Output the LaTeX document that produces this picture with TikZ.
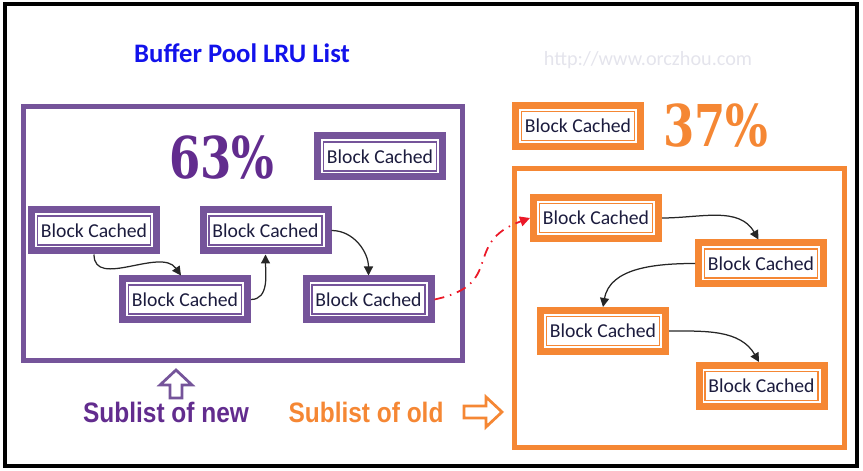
\documentclass[tikz,border=0pt]{standalone}
\usepackage{fontspec}
\usepackage{tikz}
\usetikzlibrary{arrows.meta,positioning}
\newfontfamily\calib{Carlito}
\newfontfamily\arb{Liberation Sans}
\newfontfamily\slab{DejaVu Serif}
\definecolor{cPurple}{RGB}{117,84,154}
\definecolor{cDeep}{RGB}{98,44,142}
\definecolor{cOrange}{RGB}{245,135,52}
\definecolor{cTitle}{RGB}{18,18,235}
\definecolor{cInk}{RGB}{28,28,62}
\definecolor{cMark}{RGB}{228,228,236}
\definecolor{cLink}{RGB}{235,25,40}
\tikzset{
  inset/.style={path picture={
      \draw[#1,line width=0.025cm]
        ([shift={(0.12cm,0.12cm)}]path picture bounding box.south west) rectangle
        ([shift={(-0.12cm,-0.12cm)}]path picture bounding box.north east);}},
  blkbase/.style={rectangle,line width=0.14cm,fill=white,inner sep=0pt,
                  minimum width=2.5cm,minimum height=0.82cm,text=cInk,
                  font=\calib\fontsize{11.2}{13}\selectfont},
  newblk/.style={blkbase,draw=cPurple,inset=cPurple},
  oldblk/.style={blkbase,draw=cOrange,inset=cOrange},
  sublist/.style={rectangle,inner sep=0pt},
  pct/.style={font=\slab\bfseries\fontsize{32.8}{34}\selectfont},
  caption/.style={font=\arb\bfseries\fontsize{16}{18}\selectfont},
  lnk/.style={->,>={Triangle[length=0.18cm,width=0.18cm]},line width=0.025cm,color=black!85},
  jmp/.style={->,>={Triangle[length=0.2cm,width=0.2cm]},line width=0.035cm,color=cLink,
              dash pattern=on 0.2cm off 0.12cm on 0.03cm off 0.12cm},
  hollow/.style={line width=0.055cm,fill=white,line join=miter}
}
\begin{document}
\begin{tikzpicture}
  \useasboundingbox (0,0) rectangle (17.26,9.42);

  % outer frame
  \node[draw=black,line width=0.08cm,minimum width=17.04cm,minimum height=9.25cm,
        inner sep=0pt] (frame) at (8.61,4.715) {};

  \node[font=\calib\bfseries\fontsize{15.2}{17}\selectfont,text=cTitle] (title) at (4.84,8.36)
      {Buffer Pool LRU List};
  \node[font=\calib\fontsize{11.5}{13}\selectfont,text=cMark] (mark) at (12.96,8.22)
      {http://www.orczhou.com};

  % the two sublists
  \node[sublist,draw=cPurple,line width=0.1cm,minimum width=8.78cm,minimum height=5.08cm]
      (newsub) at (4.86,4.75) {};
  \node[sublist,draw=cOrange,line width=0.09cm,minimum width=6.6cm,minimum height=5.58cm]
      (oldsub) at (13.59,3.26) {};

  \node[pct,text=cDeep] (pnew) at (4.44,6.26) {\scalebox{0.78}[1]{63\%}};
  \node[pct,text=cOrange] (pold) at (14.32,6.90) {\scalebox{0.78}[1]{37\%}};

  % blocks in the new sublist
  \node[newblk] (n1) at (7.60,6.29) {Block Cached};
  \node[newblk] (n2) at (1.88,4.81) {Block Cached};
  \node[newblk] (n3) at (5.31,4.81) {Block Cached};
  \node[newblk] (n4) at (3.70,3.43) {Block Cached};
  \node[newblk] (n5) at (7.37,3.43) {Block Cached};

  % blocks in the old sublist
  \node[oldblk] (o0) at (11.56,6.90) {Block Cached};
  \node[oldblk] (o1) at (11.92,5.06) {Block Cached};
  \node[oldblk] (o2) at (15.22,4.15) {Block Cached};
  \node[oldblk] (o3) at (12.06,2.80) {Block Cached};
  \node[oldblk] (o4) at (15.23,1.70) {Block Cached};

  \draw[lnk] (n2.south) to[out=-90,in=125] ([xshift=-0.08cm]n4.north);
  \draw[lnk] (n4.east) to[out=0,in=-90] (n3.south);
  \draw[lnk] (n3.east) to[out=0,in=90] (n5.north);
  \draw[jmp] (n5.east) to[out=12,in=200,looseness=1.5] (o1.west);
  \draw[lnk] (o1.east) to[out=0,in=120] ([xshift=-0.05cm]o2.north);
  \draw[lnk] (o2.west) to[out=180,in=80] (o3.north);
  \draw[lnk] (o3.east) to[out=0,in=120] ([xshift=-0.05cm]o4.north);

  % captions
  \node[caption,text=cDeep] (capnew) at (3.32,1.18) {\scalebox{0.87}[1]{Sublist of new}};
  \node[caption,text=cOrange] (capold) at (7.32,1.18) {\scalebox{0.87}[1]{Sublist of old}};

  \coordinate (upa) at (3.52,2.02);
  \draw[hollow,draw=cPurple] (upa) -- ++(0.32,-0.30) -- ++(-0.20,0) -- ++(0,-0.26)
      -- ++(-0.24,0) -- ++(0,0.26) -- ++(-0.20,0) -- cycle;
  \coordinate (rta) at (10.04,1.18);
  \draw[hollow,draw=cOrange] (rta) -- ++(-0.32,0.30) -- ++(0,-0.18) -- ++(-0.44,0)
      -- ++(0,-0.24) -- ++(0.44,0) -- ++(0,-0.18) -- cycle;

\end{tikzpicture}
\end{document}
